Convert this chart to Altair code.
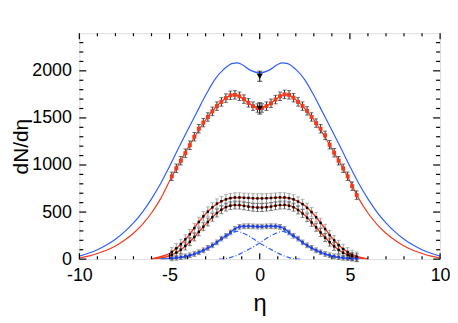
import altair as alt
import pandas as pd

# ---------------- data ----------------
eta_pts = [-4.875, -4.625, -4.375, -4.125, -3.875, -3.625, -3.375, -3.125, -2.875, -2.625,
           -2.375, -2.125, -1.875, -1.625, -1.375, -1.125, -0.875, -0.625, -0.375, -0.125,
           0.125, 0.375, 0.625, 0.875, 1.125, 1.375, 1.625, 1.875, 2.125, 2.375,
           2.625, 2.875, 3.125, 3.375, 3.625, 3.875, 4.125, 4.375, 4.625, 4.875, 5.125, 5.375]

red_pts = [880, 965, 1045, 1125, 1210, 1300, 1385, 1450, 1510, 1570,
           1625, 1670, 1710, 1740, 1745, 1730, 1700, 1660, 1625, 1605,
           1605, 1625, 1655, 1695, 1730, 1750, 1745, 1715, 1670, 1625,
           1575, 1510, 1445, 1385, 1315, 1215, 1130, 1045, 965, 880, 775, 680]
red_err = 45

up_pts = [75, 115, 160, 210, 265, 330, 395, 455, 505, 550,
          590, 615, 635, 648, 655, 655, 652, 650, 646, 645,
          645, 647, 650, 653, 656, 655, 648, 635, 612, 585,
          545, 500, 445, 385, 320, 255, 200, 150, 108, 72, 45, 26]
up_err = 50

lo_pts = [45, 70, 100, 140, 185, 235, 290, 345, 395, 445,
          490, 525, 553, 568, 575, 574, 566, 558, 551, 548,
          548, 552, 558, 567, 574, 576, 568, 552, 522, 485,
          440, 390, 338, 283, 228, 180, 135, 98, 68, 44, 27, 15]
lo_err = 42

bl_pts = [9, 14, 21, 30, 41, 55, 73, 94, 120, 147,
          178, 218, 248, 284, 320, 342, 349, 350, 348, 346,
          346, 348, 350, 349, 342, 320, 284, 248, 218, 178,
          147, 120, 94, 73, 55, 41, 30, 21, 14, 9, 5, 3]
bl_err = 25

eta_main = [-10, -9.5, -9, -8.5, -8, -7.5, -7, -6.5, -6, -5.5, -5, -4.5, -4, -3.5, -3, -2.5,
            -2, -1.5, -1.25, -1, -0.5, 0, 0.5, 1, 1.25, 1.5, 2, 2.5, 3, 3.5, 4, 4.5, 5,
            5.5, 6, 6.5, 7, 7.5, 8, 8.5, 9, 9.5, 10]
blue_main = [32, 62, 100, 150, 212, 290, 385, 500, 640, 800, 985, 1180, 1370, 1555, 1740, 1905,
             2015, 2080, 2084, 2068, 2005, 1978, 2005, 2068, 2084, 2080, 2015, 1905, 1740, 1555,
             1370, 1180, 985, 800, 640, 500, 385, 290, 212, 150, 100, 62, 32]
red_main = [12, 32, 60, 95, 140, 200, 275, 370, 490, 640, 830, 1005, 1172, 1335, 1478, 1600,
            1692, 1745, 1740, 1712, 1642, 1605, 1642, 1712, 1740, 1745, 1692, 1600, 1478, 1335,
            1172, 1005, 830, 640, 490, 370, 275, 200, 140, 95, 60, 32, 12]

eta_low = [-6, -5.5, -5, -4.5, -4, -3.5, -3, -2.5, -2, -1.5, -1, -0.5, 0,
           0.5, 1, 1.5, 2, 2.5, 3, 3.5, 4, 4.5, 5, 5.5, 6]
up_curve = [2, 25, 60, 135, 235, 365, 480, 570, 625, 652, 655, 648, 645,
            648, 655, 652, 625, 568, 475, 355, 228, 128, 60, 24, 2]
lo_curve = [1, 12, 36, 82, 160, 262, 370, 468, 540, 573, 571, 555, 548,
            555, 571, 573, 540, 465, 365, 256, 158, 82, 36, 12, 1]

eta_blue = [-5.5, -5, -4.5, -4, -3.5, -3, -2.5, -2, -1.75, -1.5, -1.25, -1, -0.5, 0,
            0.5, 1, 1.25, 1.5, 1.75, 2, 2.5, 3, 3.5, 4, 4.5, 5, 5.5]
bl_curve = [1, 6, 15, 33, 62, 105, 160, 232, 262, 305, 335, 348, 350, 345,
            350, 348, 335, 305, 262, 232, 160, 105, 62, 33, 15, 6, 1]

eta_cr = [-2.25, -2, -1.75, -1.5, -1.25, -1, -0.75, -0.5, -0.25, 0, 0.25, 0.5, 0.75, 1,
          1.25, 1.5, 1.75, 2, 2.5, 3, 3.5, 4, 4.5, 5, 5.5]
comp_r = [0, 3, 10, 25, 42, 65, 90, 115, 143, 172, 204, 235, 262, 283,
          295, 280, 252, 232, 160, 105, 62, 33, 15, 6, 1]
eta_cl = [-5.5, -5, -4.5, -4, -3.5, -3, -2.5, -2, -1.75, -1.5, -1.25, -1, -0.75, -0.5,
          -0.25, 0, 0.25, 0.5, 0.75, 1, 1.25, 1.5, 1.75, 2, 2.25]
comp_l = [1, 6, 15, 33, 62, 105, 160, 232, 252, 280, 295, 283, 262, 235,
          204, 172, 143, 115, 90, 65, 42, 25, 10, 3, 0]

meas_eta = [0, 0]
meas_val = [1943, 1601]
meas_err = [54, 60]

x_major = [-10, -5, 0, 5, 10]
x_minor = [-9, -8, -7, -6, -4, -3, -2, -1, 1, 2, 3, 4, 6, 7, 8, 9]
y_major = [0, 500, 1000, 1500, 2000]
y_minor = [v for v in range(100, 2400, 100) if v % 500 != 0]

# ---------------- chart ----------------
W, H = 364, 228
FONT = "Liberation Sans"
RED = "#f23a1c"
BLUE = "#2f5fff"
xs = alt.Scale(domain=[-10, 10], nice=False, zero=False)
ys = alt.Scale(domain=[0, 2400], nice=False, zero=False)

X_AX = alt.Axis(values=x_major, ticks=False, domain=False, grid=False,
                labelFont=FONT, labelFontSize=18, labelColor="black",
                labelPadding=8, labelExpr="'' + datum.value", labelFlush=False,
                titleFont=FONT, titleFontSize=24, titleFontWeight="normal",
                titleColor="black", titlePadding=7)
Y_AX = alt.Axis(values=y_major, ticks=False, domain=False, grid=False,
                labelFont=FONT, labelFontSize=18, labelColor="black",
                labelPadding=8, labelExpr="'' + datum.value", labelFlush=False,
                titleFont=FONT, titleFontSize=21, titleFontWeight="normal",
                titleColor="black", titlePadding=0)


def X(field="eta"):
    return alt.X(f"{field}:Q", scale=xs, axis=X_AX, title="η")


def Y(field="v"):
    return alt.Y(f"{field}:Q", scale=ys, axis=Y_AX, title="dN/dη")


def pts_df(vals, err):
    return pd.DataFrame({"eta": eta_pts, "v": vals,
                         "lo": [a - err for a in vals], "hi": [a + err for a in vals]})


def curve(etas, vals, color, dash=None, width=1.2):
    kw = dict(color=color, strokeWidth=width, interpolate="monotone", clip=True)
    if dash:
        kw["strokeDash"] = dash
    return alt.Chart(pd.DataFrame({"eta": etas, "v": vals})).mark_line(**kw).encode(x=X(), y=Y())


def errbars(df, color, cap=4):
    base = alt.Chart(df)
    r = base.mark_rule(color=color, strokeWidth=1).encode(x=X(), y=Y("lo"), y2="hi:Q")
    t1 = base.mark_tick(color=color, orient="horizontal", size=cap, thickness=1).encode(x=X(), y=Y("lo"))
    t2 = base.mark_tick(color=color, orient="horizontal", size=cap, thickness=1).encode(x=X(), y=Y("hi"))
    return r + t1 + t2


def points(df, color, shape="square", size=16):
    return alt.Chart(df).mark_point(shape=shape, filled=True, color=color, size=size,
                                    opacity=1).encode(x=X(), y=Y())


def yticks(vals, x0, x1):
    return alt.Chart(pd.DataFrame({"v": vals})).mark_rule(color="black", strokeWidth=1.2).encode(
        y=Y(), x=alt.value(x0), x2=alt.value(x1))


def xticks(vals, y0, y1):
    return alt.Chart(pd.DataFrame({"eta": vals})).mark_rule(color="black", strokeWidth=1.2).encode(
        x=X(), y=alt.value(y0), y2=alt.value(y1))


ticks = (yticks(y_major, 0, 7) + yticks(y_minor, 0, 4) + yticks(y_major, W, W - 7) + yticks(y_minor, W, W - 4)
         + xticks(x_major, H, H - 6) + xticks(x_minor, H, H - 3) + xticks(x_major, 0, 6) + xticks(x_minor, 0, 3))

up_df = pts_df(up_pts, up_err)
lo_df = pts_df(lo_pts, lo_err)
bl_df = pts_df(bl_pts, bl_err)
red_df = pts_df(red_pts, red_err)
meas_df = pd.DataFrame({"eta": meas_eta, "v": meas_val,
                        "lo": [a - e for a, e in zip(meas_val, meas_err)],
                        "hi": [a + e for a, e in zip(meas_val, meas_err)]})

chart = alt.layer(
    curve(eta_main, blue_main, BLUE),
    curve(eta_main, red_main, RED),
    errbars(up_df, "#9a9a9a"),
    errbars(lo_df, "#555555"),
    errbars(bl_df, "#666666"),
    curve(eta_low, up_curve, RED, width=1.4),
    curve(eta_low, lo_curve, RED, width=1.4),
    curve(eta_blue, bl_curve, BLUE, width=1.6),
    curve(eta_cr, comp_r, BLUE, dash=[5, 2, 1, 2]),
    curve(eta_cl, comp_l, BLUE, dash=[5, 2, 1, 2]),
    points(up_df, "black", size=6),
    points(lo_df, "black", size=6),
    points(bl_df, "#2a3fd0", size=8),
    errbars(red_df, "#333333"),
    points(red_df, RED, size=16),
    errbars(meas_df, "black", cap=5),
    points(meas_df, "black", shape="triangle-down", size=40),
    ticks,
).properties(
    width=W, height=H,
    autosize=alt.AutoSizeParams(type="none"),
    padding={"left": 72, "top": 24, "right": 10, "bottom": 60},
).configure_view(stroke="black", strokeWidth=1.5).configure(background="white")

chart.save("out.html", embed_options={"renderer": "svg", "actions": False})
